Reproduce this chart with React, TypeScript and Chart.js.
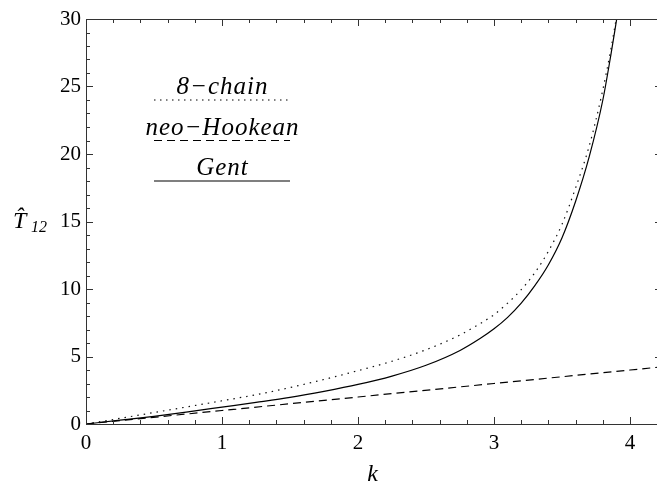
import React, { useEffect, useRef } from 'react';
import { Chart, registerables } from 'chart.js';

Chart.register(...registerables);

// ---- data ----
const kGent = [0, 0.25, 0.5, 0.75, 1, 1.25, 1.5, 1.75, 2, 2.25, 2.5, 2.75, 2.9, 3.0, 3.1, 3.2, 3.3, 3.4, 3.5, 3.6, 3.7, 3.8, 3.86, 3.902];
const tGent = [0, 0.28, 0.57, 0.9, 1.25, 1.6, 1.97, 2.42, 2.93, 3.55, 4.35, 5.45, 6.35, 7.05, 7.9, 8.95, 10.25, 11.8, 13.8, 16.5, 19.8, 24.0, 27.4, 30];

const kChain = [0, 0.25, 0.5, 0.75, 1, 1.25, 1.5, 1.75, 2, 2.25, 2.5, 2.75, 2.9, 3.0, 3.1, 3.2, 3.3, 3.4, 3.5, 3.6, 3.7, 3.79, 3.86, 3.898];
const tChain = [0, 0.42, 0.85, 1.28, 1.72, 2.17, 2.7, 3.3, 3.95, 4.65, 5.5, 6.6, 7.45, 8.1, 8.95, 9.95, 11.2, 12.8, 14.8, 17.5, 20.6, 24.3, 27.8, 30];

const kNeo = [0, 1, 2, 3, 4, 4.235];
const tNeo = [0, 1, 2, 3, 4, 4.235];

const xMajorTicks = [0, 1, 2, 3, 4];
const xMinorTicks = [0.2, 0.4, 0.6, 0.8, 1.2, 1.4, 1.6, 1.8, 2.2, 2.4, 2.6, 2.8, 3.2, 3.4, 3.6, 3.8, 4.2];
const yMajorTicks = [0, 5, 10, 15, 20, 25, 30];
const yMinorTicks = [1, 2, 3, 4, 6, 7, 8, 9, 11, 12, 13, 14, 16, 17, 18, 19, 21, 22, 23, 24, 26, 27, 28, 29];

const legendNames = ['8\u2212chain', 'neo\u2212Hookean', 'Gent'];
const legendLineY = [24, 21, 18];
const legendXRange = [0.5, 1.5];

const X_MAX = 4.235;
const Y_MAX = 30;

const SERIF = '"Liberation Serif", "Times New Roman", serif';
const FRAME = '#333';

const toPts = (xs: number[], ys: number[]) => xs.map((x, i) => ({ x, y: ys[i] }));

const framePlugin = {
  id: 'frameTicks',
  afterDraw(chart: any) {
    const { ctx, chartArea, scales } = chart;
    const { left, right, top, bottom } = chartArea;
    const xs = scales.x;
    const ys = scales.y;
    ctx.save();
    ctx.strokeStyle = FRAME;
    ctx.lineWidth = 1;
    // frame
    ctx.beginPath();
    ctx.moveTo(left + 0.5, top);
    ctx.lineTo(left + 0.5, bottom);
    ctx.moveTo(left, bottom + 0.5);
    ctx.lineTo(right, bottom + 0.5);
    ctx.moveTo(left, top + 0.5);
    ctx.lineTo(right, top + 0.5);
    ctx.moveTo(right - 0.5, top);
    ctx.lineTo(right - 0.5, bottom);
    ctx.stroke();
    const tickX = (v: number, len: number) => {
      const px = Math.round(xs.getPixelForValue(v)) + 0.5;
      ctx.moveTo(px, bottom);
      ctx.lineTo(px, bottom - len);
      ctx.moveTo(px, top);
      ctx.lineTo(px, top + len);
    };
    const tickY = (v: number, len: number) => {
      const py = Math.round(ys.getPixelForValue(v)) + 0.5;
      ctx.moveTo(left, py);
      ctx.lineTo(left + len, py);
      ctx.moveTo(right, py);
      ctx.lineTo(right - len, py);
    };
    ctx.beginPath();
    xMajorTicks.forEach((v) => tickX(v, 7));
    xMinorTicks.forEach((v) => tickX(v, 4));
    yMajorTicks.forEach((v) => tickY(v, 7));
    yMinorTicks.forEach((v) => tickY(v, 4));
    ctx.stroke();

    // legend
    const lx0 = xs.getPixelForValue(legendXRange[0]);
    const lx1 = xs.getPixelForValue(legendXRange[1]);
    const lcx = (lx0 + lx1) / 2;
    const dashes = [[1.5, 4.5], [8, 5], []];
    ctx.fillStyle = '#000';
    ctx.strokeStyle = '#000';
    ctx.font = `italic 25px ${SERIF}`;
    try { (ctx as any).letterSpacing = '1px'; } catch (e) {}
    ctx.textAlign = 'center';
    ctx.textBaseline = 'alphabetic';
    legendNames.forEach((name, i) => {
      const py = ys.getPixelForValue(legendLineY[i]);
      ctx.fillText(name, lcx + 0.5, py - 6);
      ctx.beginPath();
      ctx.setLineDash(dashes[i]);
      ctx.lineWidth = 1.2;
      ctx.moveTo(lx0, py);
      ctx.lineTo(lx1, py);
      ctx.stroke();
    });
    ctx.setLineDash([]);
    try { (ctx as any).letterSpacing = '0px'; } catch (e) {}

    // axis titles
    ctx.font = `italic 24px ${SERIF}`;
    ctx.textAlign = 'center';
    ctx.fillText('k', (left + 657) / 2 + 1, 481);
    ctx.textAlign = 'left';
    ctx.fillText('T\u0302', 13, 228);
    ctx.font = `italic 16px ${SERIF}`;
    ctx.fillText('12', 31, 232);
    ctx.restore();
  },
};

export default function App() {
  const ref = useRef<HTMLCanvasElement>(null);
  useEffect(() => {
    document.body.style.margin = '0';
    const canvas = ref.current!;
    const common = { pointRadius: 0, borderWidth: 1.2, borderColor: '#000', cubicInterpolationMode: 'monotone' as const, fill: false };
    const chart = new Chart(canvas, {
      type: 'line',
      data: {
        datasets: [
          { label: '8-chain', data: toPts(kChain, tChain), borderDash: [1.5, 5], ...common, borderColor: '#111' },
          { label: 'neo-Hookean', data: toPts(kNeo, tNeo), borderDash: [8, 5], ...common },
          { label: 'Gent', data: toPts(kGent, tGent), ...common },
        ],
      },
      options: {
        responsive: false,
        animation: false,
        devicePixelRatio: 1,
        layout: { padding: { left: 0, right: 1, top: 19, bottom: 0 } },
        plugins: { legend: { display: false }, tooltip: { enabled: false }, title: { display: false } },
        scales: {
          x: {
            type: 'linear',
            min: 0,
            max: X_MAX,
            grid: { display: false, drawTicks: false },
            border: { display: false },
            afterBuildTicks: (s: any) => { s.ticks = xMajorTicks.map((v) => ({ value: v })); },
            afterFit: (s: any) => { s.height = 61; s.paddingLeft = 0; s.paddingRight = 0; },
            ticks: { color: '#000', padding: 7, maxRotation: 0, font: { family: SERIF, size: 21 } },
          },
          y: {
            type: 'linear',
            min: 0,
            max: Y_MAX,
            grid: { display: false, drawTicks: false },
            border: { display: false },
            afterBuildTicks: (s: any) => { s.ticks = yMajorTicks.map((v) => ({ value: v })); },
            afterFit: (s: any) => { s.width = 86; s.paddingTop = 0; s.paddingBottom = 0; },
            ticks: { color: '#000', padding: 5, font: { family: SERIF, size: 21 } },
          },
        },
      },
      plugins: [framePlugin],
    });
    return () => chart.destroy();
  }, []);
  return (
    <div style={{ width: 657, height: 485, overflow: 'hidden' }}>
      <canvas ref={ref} width={663} height={485} style={{ display: 'block', width: 663, height: 485 }} />
    </div>
  );
}
